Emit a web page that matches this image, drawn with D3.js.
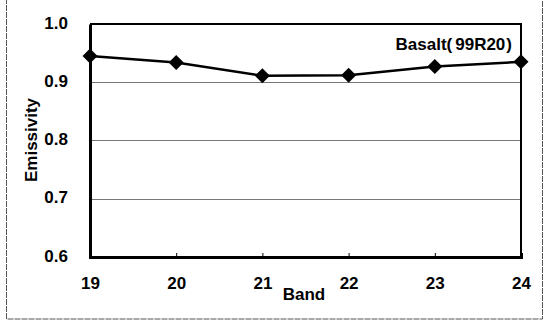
<!DOCTYPE html>
<html>
<head>
<meta charset="utf-8">
<script src="https://cdn.jsdelivr.net/npm/d3@7"></script>
<style>
  html, body { margin: 0; padding: 0; background: #fff; }
  svg { display: block; }
  text { font-family: "Liberation Sans", Arial, sans-serif; font-weight: bold; fill: #000; }
</style>
</head>
<body>
<script>
// Emissivity of basalt sample 99R20 across thermal bands
const bands = [19, 20, 21, 22, 23, 24];
const emissivity = [0.945, 0.934, 0.911, 0.912, 0.927, 0.935];
const yTicks = [0.6, 0.7, 0.8, 0.9, 1.0];
const seriesName = "Basalt";
const sampleId = "99R20";
const xTitle = "Band";
const yTitle = "Emissivity";

const W = 546, H = 331;
const plot = { left: 90, right: 521, top: 24, bottom: 257 };
const FONT = "17px";

const svg = d3.select("body").append("svg")
  .attr("width", W).attr("height", H);

// outer frame
svg.append("rect")
  .attr("x", 6.5).attr("y", -2).attr("width", 536).attr("height", 321)
  .attr("fill", "none").attr("stroke", "#555").attr("stroke-width", 1)
  .attr("stroke-dasharray", "6,1");

const x = d3.scaleLinear().domain([19, 24]).range([plot.left, plot.right]);
const y = d3.scaleLinear().domain([0.6, 1.0]).range([plot.bottom, plot.top]);

// horizontal gridlines
svg.append("g")
  .selectAll("line")
  .data(yTicks.filter(t => t > 0.6 && t < 1.0))
  .join("line")
  .attr("x1", plot.left).attr("x2", plot.right)
  .attr("y1", d => Math.round(y(d)) + 0.5).attr("y2", d => Math.round(y(d)) + 0.5)
  .attr("stroke", "#777").attr("stroke-width", 1);

// top and right edges of the plot area
svg.append("path")
  .attr("d", `M${plot.left},${plot.top}H${plot.right}V${plot.bottom}`)
  .attr("fill", "none").attr("stroke", "#000").attr("stroke-width", 2);

// y axis
const yAxis = svg.append("g")
  .attr("transform", `translate(${plot.left},0)`)
  .call(d3.axisLeft(y).tickValues(yTicks).tickFormat(d3.format(".1f")).tickSize(0));
yAxis.select(".domain").attr("stroke", "#000").attr("stroke-width", 3);
yAxis.selectAll("text")
  .style("font-size", FONT)
  .attr("x", -22).attr("y", 4).attr("dy", 0);

// x axis
const xAxis = svg.append("g")
  .attr("transform", `translate(0,${plot.bottom})`)
  .call(d3.axisBottom(x).tickValues(bands).tickFormat(d3.format("d")).tickSize(-4));
xAxis.select(".domain").attr("stroke", "#000").attr("stroke-width", 3);
xAxis.selectAll(".tick line").attr("stroke", "#000").attr("stroke-width", 1);
xAxis.selectAll("text")
  .style("font-size", FONT)
  .attr("y", 32).attr("dy", 0);

// series line
const pts = bands.map((b, i) => [b, emissivity[i]]);
svg.append("path")
  .datum(pts)
  .attr("d", d3.line().x(d => x(d[0])).y(d => y(d[1])))
  .attr("fill", "none").attr("stroke", "#000").attr("stroke-width", 2.5);

// diamond markers
svg.append("g")
  .selectAll("path")
  .data(pts)
  .join("path")
  .attr("transform", d => `translate(${x(d[0])},${y(d[1])})`)
  .attr("d", "M0,-7.5L7.5,0L0,7.5L-7.5,0Z")
  .attr("fill", "#000");

// series label, with a little air inside the parentheses
const lbl = svg.append("text")
  .attr("x", 512).attr("y", 50)
  .attr("text-anchor", "end")
  .style("font-size", FONT);
lbl.append("tspan").text(seriesName + "(");
lbl.append("tspan").attr("dx", 3).text(sampleId);
lbl.append("tspan").attr("dx", 1).text(")");

// axis titles
svg.append("text")
  .attr("x", 304).attr("y", 300)
  .attr("text-anchor", "middle")
  .style("font-size", FONT)
  .text(xTitle);

svg.append("text")
  .attr("transform", "translate(37,140) rotate(-90)")
  .attr("text-anchor", "middle")
  .style("font-size", FONT)
  .text(yTitle);
</script>
</body>
</html>
